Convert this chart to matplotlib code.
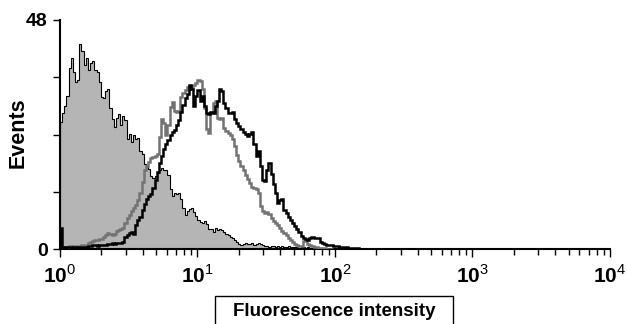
import numpy as np
import matplotlib
matplotlib.use('Agg')
from matplotlib import pyplot as plt
from matplotlib.patches import Rectangle
from matplotlib.ticker import FixedLocator, LogLocator, NullFormatter

plt.rcParams['font.family'] = 'Liberation Sans'
plt.rcParams['mathtext.fontset'] = 'custom'
plt.rcParams['mathtext.rm'] = 'Liberation Sans'
plt.rcParams['mathtext.bf'] = 'Liberation Sans:bold'

# 256 log channels over 4 decades, counts per channel (starting at 10^0)
channels_per_decade = 64

# unstained control (filled)
control = [26.6, 28.5, 30, 32, 38, 40, 37, 35, 35.5, 43, 41.5, 38.5, 40, 37.5,
           39, 39.5, 37.5, 37, 35, 31.8, 31.7, 33.2, 33.5, 29.5, 27.2, 25.5,
           27.5, 28.3, 26, 27.8, 27, 23, 24.2, 22.5, 24, 23, 23.3, 20.5, 20,
           17.8, 17.2, 16.8, 15.3, 14.9, 15.2, 16, 16.6, 17, 16.5, 16.5, 15.5,
           12.5, 11.2, 11.7, 11.6, 11.8, 10.5, 8.6, 7.1, 8, 8.3, 8.5, 7.8, 7,
           6, 5.7, 5.5, 5.9, 5.2, 4.2, 4.2, 3.6, 4.4, 3.9, 4.2, 3.9, 3.5, 3.2,
           2.9, 2.6, 2.3, 1.9, 1.5, 1.1, 0.8, 1.0, 1.2, 1.0, 1.1, 1.2, 0.9,
           1.0, 1.2, 1.0, 0.8, 0.6, 0.7, 0.5, 0.7, 0.6, 0.5, 0.7, 0.5, 0.6,
           0.4, 0.5, 0.6, 0.4, 0.5, 0.4, 0.4, 0.3, 0.5, 0.4, 0.3, 0.4, 0.3,
           0.2, 0.3, 0.2, 0.1, 0.2, 0.1, 0.1, 0]

# grey line
sample_grey = [0.5, 0.4, 0.5, 0.5, 0.6, 0.5, 0.6, 0.7, 0.6, 0.7, 0.8, 0.8, 0.9,
               1.2, 1.5, 1.6, 1.9, 1.8, 2.0, 2.2, 2.5, 2.9, 3.3, 3.1, 3.0, 3.2,
               3.8, 4.0, 4.2, 4.5, 5.5, 6.5, 7.2, 7.9, 8.6, 9.3, 10.3, 11.8, 14,
               16.5, 17.5, 18.2, 19, 19.2, 19.4, 20, 23.5, 27.2, 26.5, 23.8, 26,
               29.8, 30.8, 29, 28.8, 29, 31.8, 32.8, 33.4, 33.9, 34.2, 33.6,
               34.3, 34.8, 35.4, 35.2, 33.5, 29.5, 25.2, 24.3, 28.5, 30.6, 31,
               27.5, 27.3, 27.5, 25.3, 24.8, 24.3, 23.8, 23, 21.5, 19.8, 18.4,
               17.3, 16.5, 15.6, 14.7, 13.8, 13, 12.8, 12.5, 11.8, 9, 8, 7.5,
               7.8, 7.3, 6.5, 5.9, 5.4, 5, 4.3, 3.8, 3.3, 2.9, 2.3, 1.9, 1.5,
               1.1, 0.8, 0.6, 0.7, 1.6, 1.6, 1.1, 0.9, 0.7, 0.5, 0.4, 0.3, 0.3,
               0.2, 0.2, 0.1, 0.1, 0]

# black line
sample_black = [4.5, 0.4, 0.3, 0.4, 0.4, 0.3, 0.4, 0.5, 0.4, 0.5, 0.5, 0.4, 0.5,
                0.6, 0.7, 0.8, 0.8, 0.7, 0.8, 0.9, 0.8, 0.9, 1.0, 1.1, 1.2, 1.1,
                1.2, 1.3, 1.2, 1.5, 2.5, 2.9, 3.4, 3.5, 3.2, 5.0, 6.0, 6.8, 8.2,
                9.5, 10.5, 11.2, 11.6, 12.8, 14.5, 16.2, 18, 19.5, 21, 22, 22.9,
                23.8, 24.5, 25, 26, 27, 28.8, 30.2, 31.6, 32.5, 34.3, 33.5, 30,
                32, 33.3, 31, 32, 30, 28.6, 28.3, 28.8, 28.5, 30, 31, 33.6, 33.2,
                30.5, 29.6, 28.5, 28.5, 28.8, 27.2, 26.4, 25.8, 25.1, 24.6, 24.1,
                23.6, 24.2, 24.5, 22, 19.5, 20.5, 17.5, 14.5, 14.2, 16.5, 18,
                15.8, 13.6, 11.8, 9.6, 10.3, 10.5, 8.2, 7.5, 6.8, 6, 5.4, 4.8,
                4.1, 3.5, 2.8, 2.4, 2.1, 1.9, 2.3, 2.5, 2.3, 2.4, 2.4, 1.5, 1.3,
                1.1, 0.9, 0.8, 0.8, 0.7, 0.6, 0.6, 0.5, 0.5, 0.4, 0.4, 0.3, 0.3,
                0.3, 0.2, 0.2, 0]


def edges_for(counts):
    return 10 ** (np.arange(len(counts) + 1) / channels_per_decade)


fig = plt.figure(figsize=(6.27, 3.24), dpi=100)
ax = fig.add_axes([60 / 627, 75 / 324, 550 / 627, 229 / 324])

ax.stairs(control, edges_for(control), fill=True, color='#b5b5b5', zorder=1)
ax.stairs(control, edges_for(control), color='black', lw=0.8, zorder=2)
ax.stairs(sample_grey, edges_for(sample_grey), color='#737373', lw=1.8, zorder=3)
ax.stairs(sample_black, edges_for(sample_black), color='black', lw=1.8, zorder=4)

ax.set_xscale('log')
ax.set_xlim(1, 1e4)
ax.set_ylim(0, 48)

for s in ['top', 'right']:
    ax.spines[s].set_visible(False)
ax.spines['left'].set_linewidth(1.5)
ax.spines['bottom'].set_linewidth(1.5)

ax.yaxis.set_major_locator(FixedLocator([0, 12, 24, 36, 48]))
ax.set_yticklabels(['0', '', '', '', '48'], fontsize=14, fontweight='bold')
ax.tick_params(axis='y', direction='out', length=5, width=1, pad=4)

ax.xaxis.set_major_locator(FixedLocator([1, 10, 100, 1000, 10000]))
ax.set_xticklabels([r'$\mathbf{10}^{%d}$' % i for i in range(5)], fontsize=15)
ax.xaxis.set_minor_locator(LogLocator(base=10, subs=np.arange(2, 10)))
ax.xaxis.set_minor_formatter(NullFormatter())
ax.tick_params(axis='x', which='major', direction='out', length=6, width=1, pad=5)
ax.tick_params(axis='x', which='minor', direction='out', length=4, width=1)

fig.text(18 / 627, 1 - 133 / 324, 'Events', rotation=90, ha='center',
         va='center', fontsize=15.5, fontweight='bold')

fig.patches.append(Rectangle((215 / 627, -0.1), 238 / 627, 0.1 + 28 / 324,
                             transform=fig.transFigure, fill=False,
                             edgecolor='black', lw=1))
fig.text(334 / 627, 1 - 311 / 324, 'Fluorescence intensity', ha='center',
         va='center', fontsize=13.5, fontweight='bold')

fig.savefig('out.png', dpi=100)
